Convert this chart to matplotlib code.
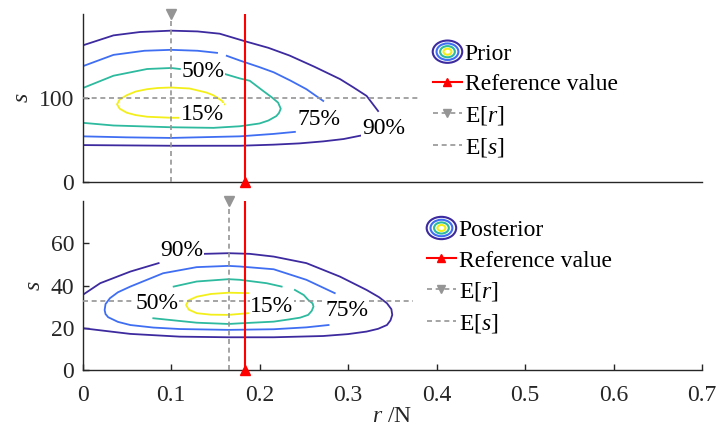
import matplotlib
matplotlib.use("Agg")
import matplotlib.pyplot as plt
from matplotlib.lines import Line2D
from matplotlib.patches import Ellipse
from matplotlib.legend_handler import HandlerBase

plt.rcParams["font.family"] = ["Liberation Serif", "DejaVu Serif"]
plt.rcParams["mathtext.fontset"] = "custom"
plt.rcParams["mathtext.rm"] = "Liberation Serif"
plt.rcParams["mathtext.it"] = "Liberation Serif:italic"

# contour pieces, (r, s) pairs, broken where labels sit
prior_90 = [
    [(0, 162.8), (0.035, 174.8), (0.065, 178.8), (0.1, 180.4), (0.13, 179.5), (0.155, 176.8),
     (0.183, 168.0), (0.21, 160.0), (0.234, 150.8), (0.262, 137.5), (0.291, 122.8), (0.306, 113.0),
     (0.321, 102.8), (0.334, 84.8)],
    [(0.314, 55.5), (0.295, 51.5), (0.272, 48.7), (0.245, 46.3), (0.216, 44.8), (0.178, 43.5),
     (0.1, 43.5), (0, 44.3)],
]
prior_75 = [
    [(0, 138.0), (0.035, 151.6), (0.07, 156.5), (0.1, 157.6), (0.13, 156.5), (0.152, 154.0)],
    [(0.163, 150.5), (0.178, 144.8), (0.2, 137.0), (0.216, 130.9), (0.235, 121.0), (0.253, 110.8),
     (0.272, 96.8)],
    [(0.240, 60.0), (0.216, 57.6), (0.178, 54.7), (0.1, 52.8), (0.05, 53.5), (0, 54.7)],
]
prior_50 = [
    [(0, 112.0), (0.035, 126.8), (0.073, 134.8), (0.1, 136.0), (0.11, 134.8)],
    [(0.161, 128.8), (0.178, 123.5), (0.189, 120.8), (0.204, 108.8), (0.214, 101.0), (0.221, 94.8),
     (0.224, 87.6), (0.222, 82.5), (0.219, 78.8), (0.210, 73.5), (0.2, 70.0), (0.178, 66.7),
     (0.148, 64.8), (0.1, 65.5), (0.035, 67.6), (0, 70.8)],
]
prior_15 = [
    [(0.160, 92.7), (0.158, 96.5), (0.155, 98.8), (0.148, 103.5), (0.140, 106.8), (0.121, 111.6),
     (0.1, 112.8), (0.085, 112.2), (0.073, 110.8), (0.060, 108.0), (0.050, 103.6), (0.042, 98.5),
     (0.039, 92.8), (0.042, 87.5), (0.050, 82.8), (0.060, 80.0), (0.073, 78.0), (0.1, 76.8),
     (0.108, 76.8)],
]
post_90 = [
    [(0, 35.5), (0.02, 41.1), (0.054, 46.6), (0.086, 50.6)],
    [(0.138, 55.0), (0.165, 55.3), (0.189, 55.0), (0.216, 53.7), (0.253, 50.6), (0.291, 44.2),
     (0.321, 37.9), (0.335, 34.5), (0.344, 31.6), (0.349, 28.8), (0.350, 26.1), (0.348, 23.5),
     (0.344, 21.3), (0.334, 19.5), (0.321, 18.2), (0.300, 17.0), (0.272, 16.1), (0.216, 15.5),
     (0.165, 15.5), (0.110, 15.8), (0.054, 17.1), (0, 19.8)],
]
post_75 = [
    [(0.285, 36.4), (0.253, 42.7), (0.216, 47.7), (0.178, 49.0), (0.165, 49.3), (0.129, 48.7),
     (0.091, 45.8), (0.054, 39.5), (0.040, 36.8), (0.031, 34.0), (0.026, 31.2), (0.025, 28.4),
     (0.026, 26.5), (0.029, 25.0), (0.040, 22.8), (0.054, 21.3), (0.080, 20.1), (0.110, 19.4),
     (0.165, 19.0), (0.216, 19.3), (0.253, 20.2), (0.278, 21.3)],
]
post_50 = [
    [(0.103, 39.5), (0.129, 41.9), (0.165, 43.0), (0.178, 42.7), (0.208, 41.1), (0.225, 39.5)],
    [(0.240, 37.9), (0.250, 35.5), (0.255, 33.2), (0.260, 31.5), (0.261, 30.0), (0.259, 28.0),
     (0.255, 26.1), (0.246, 24.8), (0.234, 24.0), (0.216, 22.9), (0.178, 22.1), (0.165, 21.8),
     (0.129, 22.4), (0.080, 24.5)],
]
post_15 = [
    [(0.187, 36.4), (0.165, 36.6), (0.145, 36.0), (0.129, 34.7), (0.120, 33.0), (0.117, 30.8),
     (0.120, 28.6), (0.129, 26.9), (0.145, 26.2), (0.165, 26.1), (0.187, 26.9)],
]

# label text, r, s
prior_labels = [("15%", 0.135, 80.8), ("50%", 0.136, 131.6), ("75%", 0.267, 74.8), ("90%", 0.340, 63.6)]
post_labels = [("90%", 0.112, 56.5), ("50%", 0.084, 31.6), ("15%", 0.214, 30.3), ("75%", 0.299, 28.0)]

ref_r = 0.184
prior_er, prior_es, prior_es_end = 0.1, 100, 0.379
post_er, post_es, post_es_end = 0.165, 32.8, 0.374

x_ticks = [0, 0.1, 0.2, 0.3, 0.4, 0.5, 0.6, 0.7]
x_ticklabels = ["0", "0.1", "0.2", "0.3", "0.4", "0.5", "0.6", "0.7"]
prior_yticks = [0, 100]
post_yticks = [0, 20, 40, 60]

c90, c75, c50, c15 = "#3D2A9F", "#3F6EF2", "#2DBA9E", "#F3EF1A"
gray = "#959595"
axis_c = "#262626"
fs = 17
dash = (0, (3, 2.2))


class RingHandler(HandlerBase):
    def create_artists(self, legend, orig_handle, xdescent, ydescent, width, height, fontsize, trans):
        cx = width / 2 - xdescent
        cy = height / 2 - ydescent
        out = []
        for k, c in zip([1.0, 0.74, 0.5, 0.27], [c90, c75, c50, c15]):
            out.append(Ellipse((cx, cy), width * k, height * 1.35 * k, fill=False,
                               edgecolor=c, lw=1.5, transform=trans))
        return out


def draw_panel(ax, levels, labels, er, es, es_end, ytop):
    for segs, col in zip(levels, [c90, c75, c50, c15]):
        for seg in segs:
            ax.plot([p[0] for p in seg], [p[1] for p in seg], color=col, lw=1.3, zorder=2)
    for txt, r, s in labels:
        ax.text(r, s, txt, fontsize=fs, ha="center", va="center", zorder=5,
                bbox=dict(facecolor="white", edgecolor="none", pad=0.5))
    ax.plot([er, er], [0, ytop], color=gray, lw=1.2, ls=dash, zorder=3)
    ax.plot([er], [ytop], marker="v", color=gray, ms=7, clip_on=False, zorder=6)
    ax.plot([0, es_end], [es, es], color=gray, lw=1.2, ls=dash, zorder=3)
    ax.plot([ref_r, ref_r], [0, ytop], color="red", lw=1.5, zorder=4)
    ax.plot([ref_r], [0], marker="^", color="red", ms=7, clip_on=False, zorder=6)
    ax.set_xlim(0, 0.7)
    ax.set_ylim(0, ytop)
    for side in ["top", "right"]:
        ax.spines[side].set_visible(False)
    for side in ["left", "bottom"]:
        ax.spines[side].set_color(axis_c)
        ax.spines[side].set_linewidth(1.0)
    ax.tick_params(direction="in", length=4, width=1.0, color=axis_c, labelsize=fs,
                   labelcolor=axis_c, pad=6)
    ax.set_ylabel("$s$", fontsize=fs, color=axis_c, labelpad=4)


def make_legend(ax, name, anchor):
    handles = [Ellipse((0, 0), 1, 1),
               Line2D([], [], color="red", lw=1.5, marker="^", ms=6),
               Line2D([], [], color=gray, lw=1.2, ls=dash, marker="v", ms=6),
               Line2D([], [], color=gray, lw=1.2, ls=dash)]
    labels = [name, "Reference value", "E[$r$]", "E[$s$]"]
    ax.legend(handles, labels, handler_map={Ellipse: RingHandler()}, loc="upper left",
              bbox_to_anchor=anchor, bbox_transform=fig.transFigure, frameon=False,
              fontsize=fs, handlelength=1.25, handletextpad=0.1, labelspacing=0.37,
              borderpad=0, borderaxespad=0, numpoints=1)


fig = plt.figure(figsize=(7.2, 4.3), dpi=100)
ax1 = fig.add_axes([0.1146, 0.576, 0.8604, 0.391])
ax2 = fig.add_axes([0.1146, 0.1395, 0.8604, 0.393])

draw_panel(ax1, [prior_90, prior_75, prior_50, prior_15], prior_labels,
           prior_er, prior_es, prior_es_end, 200)
ax1.set_yticks(prior_yticks)
ax1.set_xticks([])

draw_panel(ax2, [post_90, post_75, post_50, post_15], post_labels,
           post_er, post_es, post_es_end, 80)
ax2.set_yticks(post_yticks)
ax2.set_xticks(x_ticks)
ax2.set_xticklabels(x_ticklabels)
ax2.tick_params(axis="x", pad=11)
ax2.set_xlabel("$r$ /N", fontsize=fs, color=axis_c, labelpad=0)

make_legend(ax1, "Prior", (0.601, 0.899))
make_legend(ax2, "Posterior", (0.5926, 0.489))

fig.savefig("out.png", dpi=100)
